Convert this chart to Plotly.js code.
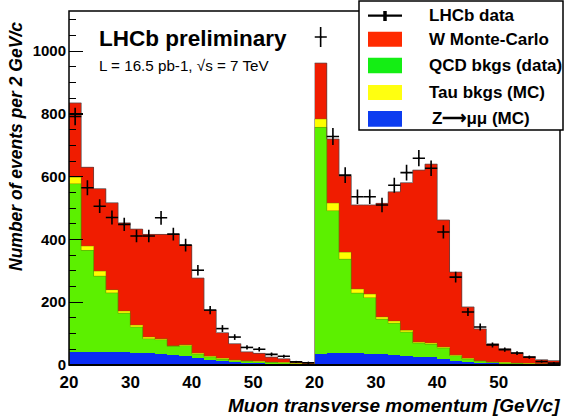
<!DOCTYPE html>
<html>
<head>
<meta charset="utf-8">
<script src="https://cdn.plot.ly/plotly-3.0.1.min.js"></script>
<style>
html,body{margin:0;padding:0;background:#ffffff;}
#chart{width:567px;height:418px;}
</style>
</head>
<body>
<div id="chart"></div>
<script>
// ---------- DATA ----------
// Muon pT bin centres, 2 GeV/c bins from 20 to 60 GeV/c
const binCenters = [21,23,25,27,29,31,33,35,37,39,41,43,45,47,49,51,53,55,57,59];
const binHalfWidth = 1;
const xTickVals = [20,30,40,50];
const yTickStep = 200;

// Left panel: stacked heights as drawn (cumulative tops of each layer)
const leftWTop    = [835,630,562,517,453,433,416,416,416,382,277,174,103,68,42,37,25,20,10,8];
const leftTauTop  = [598,379,299,240,172,127,89,84,62,65,38,28,21,16,14,13,9,8,5,4];
const leftQcdTop  = [578,365,283,230,165,121,84,81,59,62,35,26,18,14,12,11,8,7,4,3];
const leftZ       = [41,42,43,43,43,39,37,34,32,28,23,16,13,9,6,5,3,3,2,1];
const leftData    = [792,565,506,470,448,411,411,469,417,382,302,175,116,89,56,50,34,28,10,7];
const leftDataErr = [28,24,22,22,21,20,20,22,20,20,17,13,11,9,7,7,6,5,3,3];

// Right panel
const rightWTop    = [962,720,602,510,510,515,552,581,621,640,462,296,185,115,68,52,39,27,17,14];
const rightTauTop  = [784,516,359,242,226,153,140,110,73,70,57,32,21,14,10,8,6,5,4,3];
const rightQcdTop  = [757,492,337,229,215,146,133,105,70,66,54,30,19,12,8,6,5,4,3,2];
const rightZ       = [34,37,38,38,36,35,32,29,27,24,18,14,10,7,5,4,3,2,2,1];
const rightData    = [1045,728,605,536,536,510,573,613,659,627,424,280,169,121,64,49,38,25,11,6];
const rightDataErr = [32,27,25,23,23,23,24,25,26,25,21,17,13,11,8,7,6,5,3,2];

const legendLabels = ["LHCb data","W Monte-Carlo","QCD bkgs (data)","Tau bkgs (MC)","Z\u27F6\u03BC\u03BC (MC)"];

// ---------- STYLE ----------
const FONT = "Liberation Sans, Arial, Helvetica, sans-serif";
const colW = "#f01c00", colQCD = "#5cf000", colTau = "#ffff00", colZ = "#0a2cf5";
const legCols = ["#ff2a00", "#14ee14", "#ffff10", "#0c3cf0"];

// plot-area pixel geometry
const W = 567, H = 418, L = 69, R = 560, T = 11, B = 365;
const px = x => (x - L) / (R - L);
const py = y => (B - y) / (B - T);

function barTrace(y, color, xa, name){
  return {type:'bar', x: binCenters, y: y, width: 2*binHalfWidth, xaxis: xa, yaxis:'y', name: name,
          marker:{color: color, opacity: 1, line:{width:0}}, showlegend:false, hoverinfo:'skip'};
}
// step outline of a histogram layer (ROOT style)
function stepTrace(y, color, width, xa){
  const xs = [binCenters[0] - binHalfWidth];
  const ys = [0];
  for (let i = 0; i < binCenters.length; i++){ xs.push(binCenters[i] - binHalfWidth); ys.push(y[i]); }
  const lastEdge = binCenters[binCenters.length-1] + binHalfWidth;
  xs.push(lastEdge); ys.push(y[y.length-1]);
  xs.push(lastEdge); ys.push(0);
  return {type:'scatter', mode:'lines', x: xs, y: ys, xaxis: xa, yaxis:'y',
          line:{shape:'hv', color: color, width: width}, showlegend:false, hoverinfo:'skip'};
}
function dataTrace(y, err, xa){
  return {type:'scatter', mode:'markers', x: binCenters, y: y, xaxis: xa, yaxis:'y', name:'LHCb data',
          marker:{size:2, color:'#000'},
          error_x:{type:'constant', value: binHalfWidth, width:0, thickness:1.6, color:'#000'},
          error_y:{type:'data', array: err, width:0, thickness:1.6, color:'#000'},
          showlegend:false, hoverinfo:'skip'};
}

const outlineW = "rgba(90,70,70,0.75)", outlineG = "rgba(110,120,0,0.55)";
const traces = [
  barTrace(leftWTop, colW, 'x', 'W Monte-Carlo'),
  barTrace(leftTauTop, colTau, 'x', 'Tau bkgs (MC)'),
  barTrace(leftQcdTop, colQCD, 'x', 'QCD bkgs (data)'),
  barTrace(leftZ, colZ, 'x', 'Z->mumu (MC)'),
  barTrace(rightWTop, colW, 'x2', 'W Monte-Carlo'),
  barTrace(rightTauTop, colTau, 'x2', 'Tau bkgs (MC)'),
  barTrace(rightQcdTop, colQCD, 'x2', 'QCD bkgs (data)'),
  barTrace(rightZ, colZ, 'x2', 'Z->mumu (MC)'),
  stepTrace(leftTauTop, outlineG, 0.8, 'x'),
  stepTrace(leftQcdTop, outlineG, 0.8, 'x'),
  stepTrace(rightTauTop, outlineG, 0.8, 'x2'),
  stepTrace(rightQcdTop, outlineG, 0.8, 'x2'),
  stepTrace(leftWTop, outlineW, 1, 'x'),
  stepTrace(rightWTop, outlineW, 1, 'x2'),
  dataTrace(leftData, leftDataErr, 'x'),
  dataTrace(rightData, rightDataErr, 'x2')
];

const xAxisCommon = {
  range:[20,60], tickmode:'array', tickvals: xTickVals, ticks:'', showgrid:false, zeroline:false,
  showline:false, fixedrange:true, anchor:'y', ticklabelstandoff: 5,
  tickfont:{family: FONT, size:17, color:'#000', weight:'bold'}
};

// legend (drawn box)
const legShapes = [];
const legAnn = [];
legShapes.push({type:'rect', xref:'paper', yref:'paper', x0:px(359), x1:px(563), y0:py(130), y1:py(1),
                fillcolor:'#fff', line:{color:'#000', width:1.5}, layer:'above'});
legShapes.push({type:'line', xref:'paper', yref:'paper', x0:px(368), x1:px(402), y0:py(15.7), y1:py(15.7),
                line:{color:'#000', width:2.2}, layer:'above'});
legShapes.push({type:'line', xref:'paper', yref:'paper', x0:px(385), x1:px(385), y0:py(11), y1:py(21),
                line:{color:'#000', width:3.5}, layer:'above'});
const rowY = [15.7, 39.5, 66, 92.5, 119];
const swatch = [[31.7,46.7],[57.7,73.3],[85,100],[111,126.7]];
for (let i = 0; i < 4; i++){
  legShapes.push({type:'rect', xref:'paper', yref:'paper', x0:px(368), x1:px(402),
                  y0:py(swatch[i][1]), y1:py(swatch[i][0]), fillcolor:legCols[i], line:{width:0}, layer:'above'});
}
for (let i = 0; i < legendLabels.length; i++){
  legAnn.push({xref:'paper', yref:'paper', x: px(i === 4 ? 430 : 427), y: py(rowY[i]), xanchor:'left', yanchor:'middle',
               text: '<b>' + legendLabels[i] + '</b>', showarrow:false,
               font:{family: FONT, size:17, color:'#000'}});
}

const layout = {
  width: W, height: H,
  margin:{l:L, r:W - R, t:T, b:H - B, pad:0},
  paper_bgcolor:'#fff', plot_bgcolor:'#fff',
  barmode:'overlay', bargap:0, showlegend:false,
  xaxis: Object.assign({}, xAxisCommon, {domain:[0,0.5]}),
  xaxis2: Object.assign({}, xAxisCommon, {domain:[0.5,1]}),
  yaxis: {
    range:[0,1128], tickmode:'linear', tick0:0, dtick: yTickStep, ticks:'inside', ticklen:14, tickwidth:1.2,
    tickcolor:'#000', showgrid:false, zeroline:false, showline:false, fixedrange:true, ticklabelstandoff: 2,
    minor:{tickmode:'linear', tick0:0, dtick:50, ticks:'inside', ticklen:7, tickwidth:1, tickcolor:'#000', showgrid:false},
    tickfont:{family: FONT, size:15, color:'#000', weight:'bold'}
  },
  shapes: [
    {type:'rect', xref:'paper', yref:'paper', x0:0, x1:1, y0:0, y1:1, line:{color:'#000', width:1.5}, layer:'above'},
    {type:'line', xref:'paper', yref:'paper', x0:0, x1:1, y0:0, y1:0, line:{color:'#000', width:2.2}, layer:'above'}
  ].concat(legShapes),
  annotations: [
    {xref:'paper', yref:'paper', x: px(97), y: py(38), xanchor:'left', yanchor:'middle', showarrow:false,
     text:'<b>LHCb preliminary</b>', font:{family: FONT, size:22.5, color:'#000'}},
    {xref:'paper', yref:'paper', x: px(97), y: py(65), xanchor:'left', yanchor:'middle', showarrow:false,
     text:'L = 16.5 pb-1, \u221As = 7 TeV', font:{family: FONT, size:15.2, color:'#000'}},
    {xref:'paper', yref:'paper', x: px(16), y: py(147), xanchor:'center', yanchor:'middle', showarrow:false,
     textangle:-90, text:'<b><i>Number of events per 2 GeV/c</i></b>', font:{family: FONT, size:17.5, color:'#000'}},
    {xref:'paper', yref:'paper', x: px(562), y: py(405), xanchor:'right', yanchor:'middle', showarrow:false,
     text:'<b><i>Muon transverse momentum [GeV/c]</i></b>', font:{family: FONT, size:19, color:'#000'}}
  ].concat(legAnn)
};

Plotly.newPlot('chart', traces, layout, {staticPlot:true, displayModeBar:false});
</script>
</body>
</html>
